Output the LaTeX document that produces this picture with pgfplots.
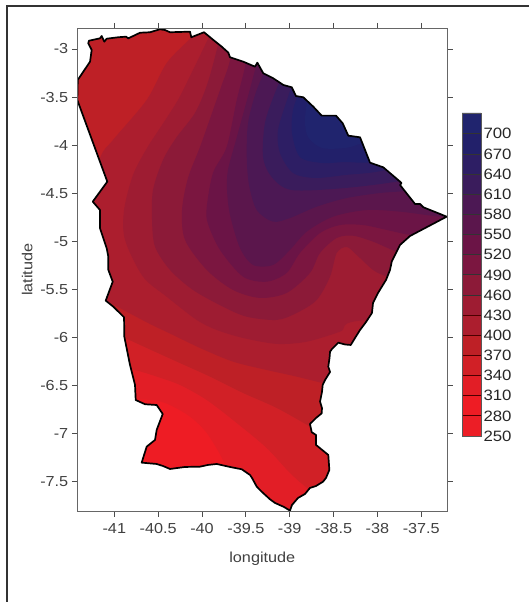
\documentclass[border=0pt]{standalone}
\usepackage{fontspec}
\setmainfont[FakeStretch=1.12]{Liberation Sans}
\usepackage{pgfplots}
\pgfplotsset{compat=1.18}
\definecolor{b250}{RGB}{236,30,38}
\definecolor{b280}{RGB}{238,28,36}
\definecolor{b310}{RGB}{226,30,38}
\definecolor{b340}{RGB}{209,32,38}
\definecolor{b370}{RGB}{190,32,38}
\definecolor{b400}{RGB}{172,30,46}
\definecolor{b430}{RGB}{158,28,50}
\definecolor{b460}{RGB}{140,26,56}
\definecolor{b490}{RGB}{123,22,64}
\definecolor{b520}{RGB}{107,20,70}
\definecolor{b550}{RGB}{91,22,76}
\definecolor{b580}{RGB}{76,24,84}
\definecolor{b610}{RGB}{58,28,92}
\definecolor{b640}{RGB}{45,30,100}
\definecolor{b670}{RGB}{34,32,106}
\definecolor{b700}{RGB}{32,36,110}
\def\outlineN{(-41.422,-3.530)(-41.417,-3.322)(-41.277,-3.132)(-41.258,-3.010)(-41.297,-2.941)(-41.289,-2.914)(-41.163,-2.889)(-41.144,-2.865)(-41.114,-2.924)(-41.087,-2.893)(-40.954,-2.878)(-40.867,-2.872)(-40.840,-2.889)(-40.707,-2.831)(-40.593,-2.826)(-40.479,-2.795)(-40.422,-2.803)(-40.365,-2.826)(-40.137,-2.820)(-40.122,-2.878)(-39.977,-2.826)(-39.871,-2.906)(-39.775,-2.976)(-39.700,-3.038)(-39.681,-3.086)(-39.529,-3.132)(-39.396,-3.184)(-39.369,-3.142)(-39.301,-3.253)(-39.187,-3.305)(-39.073,-3.374)(-38.977,-3.398)(-38.928,-3.489)(-38.845,-3.502)(-38.731,-3.600)(-38.635,-3.693)(-38.472,-3.693)(-38.396,-3.772)(-38.332,-3.901)(-38.198,-3.918)(-38.084,-4.182)(-37.933,-4.230)(-37.742,-4.379)(-37.725,-4.393)(-37.742,-4.414)(-37.571,-4.611)(-37.514,-4.611)(-37.477,-4.645)(-37.210,-4.743)}
\def\outlineS{(-37.210,-4.743)(-37.628,-4.944)(-37.742,-5.037)(-37.837,-5.211)(-37.856,-5.297)(-37.902,-5.401)(-37.993,-5.536)(-38.050,-5.640)(-38.062,-5.744)(-38.130,-5.838)(-38.198,-5.921)(-38.255,-6.004)(-38.304,-6.077)(-38.369,-6.072)(-38.446,-6.053)(-38.518,-6.119)(-38.540,-6.146)(-38.546,-6.212)(-38.560,-6.302)(-38.540,-6.358)(-38.597,-6.441)(-38.624,-6.493)(-38.632,-6.565)(-38.654,-6.666)(-38.632,-6.732)(-38.635,-6.787)(-38.700,-6.836)(-38.769,-6.898)(-38.749,-6.984)(-38.700,-7.012)(-38.700,-7.116)(-38.560,-7.220)(-38.548,-7.376)(-38.586,-7.459)(-38.620,-7.498)(-38.700,-7.543)(-38.769,-7.563)(-38.826,-7.626)(-38.905,-7.667)(-38.974,-7.740)(-38.997,-7.799)(-39.065,-7.761)(-39.168,-7.719)(-39.225,-7.681)(-39.316,-7.605)(-39.376,-7.550)(-39.430,-7.459)(-39.453,-7.428)(-39.547,-7.369)(-39.681,-7.345)(-39.832,-7.314)(-39.932,-7.324)(-40.023,-7.342)(-40.194,-7.345)(-40.365,-7.366)(-40.445,-7.335)(-40.517,-7.314)(-40.688,-7.300)(-40.631,-7.134)(-40.536,-7.064)(-40.517,-6.960)(-40.448,-6.794)(-40.517,-6.701)(-40.650,-6.693)(-40.756,-6.649)(-40.764,-6.493)(-40.821,-6.285)(-40.886,-5.991)(-40.889,-5.789)(-41.011,-5.679)(-41.098,-5.616)(-41.018,-5.419)(-41.068,-5.297)(-41.068,-5.159)(-41.087,-5.072)(-41.163,-4.864)(-41.163,-4.674)(-41.246,-4.587)(-41.080,-4.379)(-41.422,-3.530)}
\newcommand\band[2]{\addplot[smooth,draw=none,fill=#1,forget plot] coordinates {#2};}
\begin{document}
\begin{tikzpicture}
\useasboundingbox (0pt,0pt) rectangle (529pt,-602pt);
\draw[line width=2pt,color=black!80] (7pt,-602pt) -- (7pt,-6pt) -- (529pt,-6pt);
\begin{axis}[at={(77.3pt,-511.3pt)},anchor=south west,width=370pt,height=483pt,scale only axis,
 xmin=-41.422,xmax=-37.203,ymin=-7.806,ymax=-2.785,
 axis on top,
 axis line style={color=black!60,line width=1pt},
 tick style={color=black!70,line width=0.8pt},
 tick align=outside,major tick length=5.5pt,tick pos=both,
 xtick={-41,-40.5,-40,-39.5,-39,-38.5,-38,-37.5},
 xticklabels={-41,-40.5,-40,-39.5,-39,-38.5,-38,-37.5},
 ytick={-3,-3.5,-4,-4.5,-5,-5.5,-6,-6.5,-7,-7.5},
 yticklabels={-3,-3.5,-4,-4.5,-5,-5.5,-6,-6.5,-7,-7.5},
 xticklabel style={font=\fontsize{14.5}{16}\selectfont,text=black!75,yshift=-3pt},
 yticklabel style={font=\fontsize{14.5}{16}\selectfont,text=black!75},
 xlabel={longitude},ylabel={latitude},
 xlabel style={font=\fontsize{14.5}{16}\selectfont,text=black!75,yshift=-12pt},
 ylabel style={font=\fontsize{14.5}{16}\selectfont,text=black!75,yshift=1pt},
 ]
\edef\tmp{\noexpand\addplot[fill=b280,draw=none,forget plot] coordinates {\outlineN\outlineS};}\tmp
\band{b310}{(-40.536,-6.649)(-40.365,-6.701)(-40.137,-6.822)(-39.946,-6.992)(-39.761,-7.272)(-39.681,-7.480)(-39.624,-8.0)(-35.46,-8.0)(-35.46,-1.45)(-42.30,-1.45)(-42.30,-6.597)}
\band{b340}{(-41.163,-6.254)(-40.764,-6.337)(-40.517,-6.406)(-40.251,-6.493)(-39.946,-6.649)(-39.604,-6.888)(-39.262,-7.148)(-38.997,-7.407)(-38.769,-7.584)(-38.312,-7.844)(-35.46,-8.0)(-35.46,-1.45)(-42.30,-1.45)(-42.30,-6.254)}
\band{b370}{(-41.163,-5.879)(-40.878,-6.004)(-40.631,-6.108)(-40.288,-6.250)(-39.909,-6.406)(-39.532,-6.576)(-39.148,-6.732)(-38.769,-6.926)(-38.426,-7.116)(-35.46,-8.0)(-35.46,-1.45)(-42.30,-1.45)(-42.30,-5.879)}
\band{b400}{(-41.334,-5.505)(-41.106,-5.609)(-40.859,-5.731)(-40.593,-5.859)(-40.331,-5.973)(-40.023,-6.108)(-39.647,-6.250)(-39.262,-6.337)(-38.920,-6.406)(-38.483,-6.503)(-37.742,-6.649)(-35.46,-6.649)(-35.46,-1.45)(-39.966,-1.45)(-39.966,-2.699)(-40.129,-2.886)(-40.403,-3.146)(-40.631,-3.530)(-41.015,-3.946)(-41.163,-4.133)(-41.391,-4.777)}
\band{b430}{(-39.852,-2.750)(-39.946,-2.924)(-40.114,-3.239)(-40.274,-3.530)(-40.456,-3.790)(-40.627,-4.029)(-40.787,-4.310)(-40.889,-4.674)(-40.878,-4.985)(-40.673,-5.367)(-40.403,-5.575)(-40.060,-5.817)(-39.832,-5.921)(-39.532,-6.004)(-39.148,-6.066)(-38.806,-6.043)(-38.426,-5.939)(-38.084,-5.817)(-35.46,-5.817)(-35.46,-1.45)(-39.852,-1.45)}
\band{b460}{(-39.772,-2.750)(-39.832,-3.010)(-39.943,-3.374)(-40.080,-3.665)(-40.296,-3.925)(-40.445,-4.154)(-40.559,-4.466)(-40.570,-4.777)(-40.536,-5.055)(-40.365,-5.297)(-40.103,-5.505)(-39.761,-5.679)(-39.490,-5.783)(-39.148,-5.817)(-38.920,-5.744)(-38.692,-5.609)(-38.540,-5.367)(-38.464,-5.120)(-38.350,-5.058)(-38.236,-5.141)(-38.050,-5.297)(-37.894,-5.367)(-37.514,-5.505)(-35.46,-5.505)(-35.46,-1.45)(-39.772,-1.45)}
\band{b490}{(-39.647,-2.750)(-39.681,-3.114)(-39.783,-3.395)(-39.886,-3.665)(-40.023,-4.019)(-40.160,-4.341)(-40.228,-4.674)(-40.194,-4.985)(-39.946,-5.297)(-39.647,-5.505)(-39.339,-5.588)(-39.034,-5.536)(-38.769,-5.328)(-38.654,-5.120)(-38.464,-4.965)(-38.278,-4.941)(-38.050,-5.003)(-37.780,-5.107)(-37.400,-5.214)(-35.46,-5.214)(-35.46,-1.45)(-39.647,-1.45)}
\band{b520}{(-39.453,-2.803)(-39.510,-3.184)(-39.604,-3.530)(-39.718,-4.016)(-39.875,-4.289)(-39.946,-4.642)(-39.935,-4.809)(-39.795,-5.089)(-39.532,-5.367)(-39.262,-5.419)(-39.034,-5.328)(-38.883,-5.120)(-38.654,-4.913)(-38.426,-4.830)(-38.164,-4.830)(-37.894,-4.881)(-37.628,-4.933)(-37.172,-4.985)(-35.46,-4.985)(-35.46,-1.45)(-39.453,-1.45)}
\band{b550}{(-39.316,-2.906)(-39.396,-3.218)(-39.487,-3.530)(-39.612,-3.946)(-39.704,-4.258)(-39.715,-4.466)(-39.681,-4.725)(-39.567,-5.069)(-39.418,-5.245)(-39.190,-5.245)(-38.997,-5.089)(-38.806,-4.899)(-38.506,-4.743)(-38.122,-4.674)(-37.742,-4.691)(-37.286,-4.743)(-36.944,-4.757)(-35.46,-4.757)(-35.46,-1.45)(-39.316,-1.45)}
\band{b580}{(-39.225,-3.114)(-39.376,-3.426)(-39.475,-3.769)(-39.490,-4.123)(-39.464,-4.414)(-39.376,-4.674)(-39.190,-4.795)(-38.997,-4.757)(-38.692,-4.639)(-38.350,-4.549)(-37.970,-4.497)(-37.685,-4.476)(-37.172,-4.414)(-35.46,-4.414)(-35.46,-1.45)(-39.225,-1.45)}
\band{b610}{(-39.054,-3.218)(-39.168,-3.457)(-39.282,-3.769)(-39.304,-4.123)(-39.205,-4.331)(-38.977,-4.466)(-38.369,-4.445)(-37.742,-4.372)(-37.286,-4.258)(-37.286,-2.906)(-39.054,-2.906)}
\band{b640}{(-38.940,-3.270)(-39.019,-3.499)(-39.133,-3.842)(-39.111,-4.081)(-38.962,-4.289)(-38.711,-4.341)(-38.369,-4.310)(-37.913,-4.258)(-37.400,-4.050)(-37.400,-2.906)(-38.940,-2.906)}
\band{b670}{(-38.883,-3.426)(-38.962,-3.634)(-38.974,-3.873)(-38.883,-4.123)(-38.632,-4.185)(-38.369,-4.175)(-38.062,-4.175)(-37.514,-4.050)(-37.514,-2.906)(-38.883,-2.906)}
\band{b700}{(-38.791,-3.478)(-38.826,-3.738)(-38.791,-3.915)(-38.632,-4.029)(-38.369,-4.029)(-38.176,-3.977)(-37.514,-3.738)(-37.514,-3.114)(-38.654,-3.114)}
\edef\tmp{\noexpand\addplot[fill=white,draw=none,forget plot] coordinates {\outlineN(-37.0,-4.743)(-37.0,-2.6)(-41.65,-2.6)(-41.65,-3.530)};}\tmp
\edef\tmp{\noexpand\addplot[fill=white,draw=none,forget plot] coordinates {\outlineS(-41.65,-3.530)(-41.65,-8.0)(-37.0,-8.0)(-37.0,-4.743)};}\tmp
\edef\tmp{\noexpand\addplot[draw=black,line width=1.7pt,line join=round,forget plot] coordinates {\outlineN\outlineS};}\tmp
\end{axis}
\begin{axis}[at={(462pt,-436pt)},anchor=south west,width=19pt,height=323pt,scale only axis,
 xmin=0,xmax=1,ymin=250,ymax=731,
 xtick=\empty,
 ytick={250,280,310,340,370,400,430,460,490,520,550,580,610,640,670,700},
 yticklabels={250,280,310,340,370,400,430,460,490,520,550,580,610,640,670,700},
 tick style={draw=none},ytick pos=right,
 axis on top,
 axis line style={color=black!65,line width=0.9pt},
 yticklabel style={font=\fontsize{15}{16}\selectfont,text=black!85,xshift=-1pt},
 ]
\addplot[fill=b250,draw=black!70!red,line width=0.8pt] coordinates {(0,250)(1,250)(1,280)(0,280)(0,250)};
\addplot[fill=b280,draw=black!70!red,line width=0.8pt] coordinates {(0,280)(1,280)(1,310)(0,310)(0,280)};
\addplot[fill=b310,draw=black!70!red,line width=0.8pt] coordinates {(0,310)(1,310)(1,340)(0,340)(0,310)};
\addplot[fill=b340,draw=black!70!red,line width=0.8pt] coordinates {(0,340)(1,340)(1,370)(0,370)(0,340)};
\addplot[fill=b370,draw=black!70!red,line width=0.8pt] coordinates {(0,370)(1,370)(1,400)(0,400)(0,370)};
\addplot[fill=b400,draw=black!70!red,line width=0.8pt] coordinates {(0,400)(1,400)(1,430)(0,430)(0,400)};
\addplot[fill=b430,draw=black!70!red,line width=0.8pt] coordinates {(0,430)(1,430)(1,460)(0,460)(0,430)};
\addplot[fill=b460,draw=black!80,line width=0.8pt] coordinates {(0,460)(1,460)(1,490)(0,490)(0,460)};
\addplot[fill=b490,draw=black!80,line width=0.8pt] coordinates {(0,490)(1,490)(1,520)(0,520)(0,490)};
\addplot[fill=b520,draw=black!80,line width=0.8pt] coordinates {(0,520)(1,520)(1,550)(0,550)(0,520)};
\addplot[fill=b550,draw=black!80,line width=0.8pt] coordinates {(0,550)(1,550)(1,580)(0,580)(0,550)};
\addplot[fill=b580,draw=black!80,line width=0.8pt] coordinates {(0,580)(1,580)(1,610)(0,610)(0,580)};
\addplot[fill=b610,draw=black!80,line width=0.8pt] coordinates {(0,610)(1,610)(1,640)(0,640)(0,610)};
\addplot[fill=b640,draw=black!80,line width=0.8pt] coordinates {(0,640)(1,640)(1,670)(0,670)(0,640)};
\addplot[fill=b670,draw=black!80,line width=0.8pt] coordinates {(0,670)(1,670)(1,700)(0,700)(0,670)};
\addplot[fill=b700,draw=black!80,line width=0.8pt] coordinates {(0,700)(1,700)(1,731)(0,731)(0,700)};
\end{axis}
\end{tikzpicture}
\end{document}
